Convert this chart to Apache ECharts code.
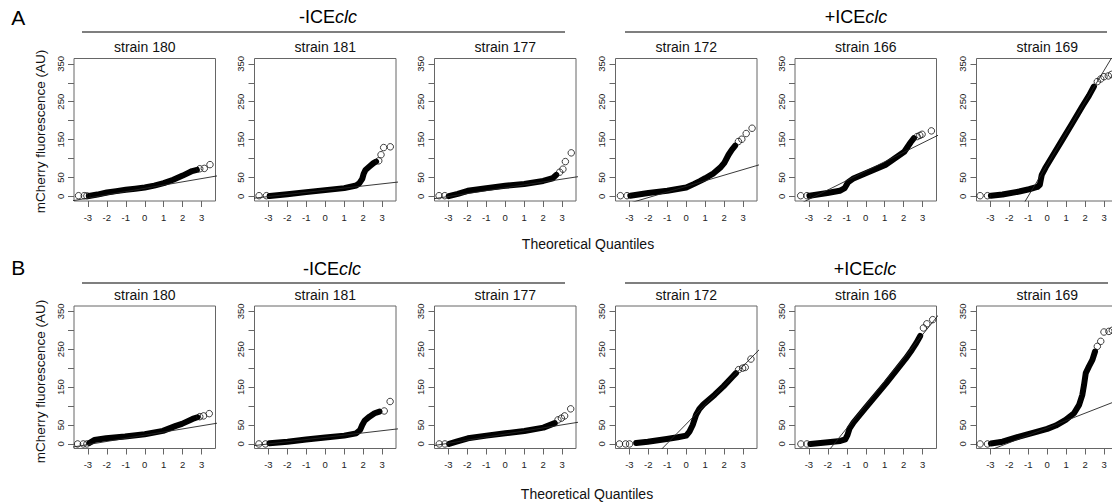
<!DOCTYPE html>
<html>
<head>
<meta charset="utf-8">
<script src="https://cdn.jsdelivr.net/npm/echarts@6.0.0/dist/echarts.min.js"></script>
<style>
  html, body { margin: 0; padding: 0; background: #fff; }
  #chart { width: 1112px; height: 504px; }
</style>
</head>
<body>
<div id="chart"></div>
<script>
// ---------- text / ticks ----------
const rowLetters = ['A', 'B'];
const groupPrefixes = ['-ICE', '+ICE'];
const groupItalic = 'clc';
const strainNames = ['strain 180', 'strain 181', 'strain 177', 'strain 172', 'strain 166', 'strain 169'];
const yAxisTitle = 'mCherry fluorescence (AU)';
const xAxisTitle = 'Theoretical Quantiles';
const yTickValues = [0, 50, 100, 150, 200, 250, 300, 350];
const yLabelValues = [0, 50, 150, 250, 350];
const xTickValues = [-3, -2, -1, 0, 1, 2, 3];

// ---------- data: [theoretical quantile, fluorescence] ----------
// Row A
const bandA180 = [[-2.95,1],[-2.5,5],[-2,10.5],[-1.5,14],[-1,17.5],[-0.5,20.5],[0,23.7],[0.5,28.5],[1,35],[1.5,44],[2,55],[2.5,67],[2.75,70]];
const outA180 = [[-3.49,2],[-3.19,2],[-3.05,1.5],[2.9,73],[3.14,74],[3.44,84]];
const refA180 = [[-4,-13],[4,55.8]];

const bandA181 = [[-2.93,1],[-2,6],[-1,11.4],[0,16.7],[1,22],[1.63,29],[1.8,35],[1.95,46.5],[2.02,59],[2.12,70],[2.33,79],[2.54,88],[2.68,92]];
const outA181 = [[-3.49,2],[-3.1,2],[2.82,94],[2.94,110],[3.08,129],[3.43,131]];
const refA181 = [[-4,-5.9],[4,38.9]];

const bandA177 = [[-2.98,1],[-2.5,7],[-1.98,15],[-1,22],[0,28],[1,33],[2,41],[2.5,48],[2.69,57]];
const outA177 = [[-3.49,2],[-3.19,2],[2.87,64],[3.04,72],[3.17,92],[3.48,115]];
const refA177 = [[-4,-7.8],[4,53.4]];

const bandA172 = [[-2.95,2],[-2,9],[-1,15],[0,23.7],[0.39,32.5],[0.74,41],[1,48],[1.44,61],[1.79,76],[2,88],[2.23,110],[2.4,123],[2.58,134]];
const outA172 = [[-3.47,2],[-3.12,2],[2.75,145],[2.93,151],[3.16,166],[3.47,180]];
const refA172 = [[-4,-32.5],[4,85.7]];

const bandA166 = [[-2.97,2],[-2.02,9],[-1.37,15],[-1.11,22],[-0.94,37],[-0.68,46.5],[0,61],[1.03,83],[2.03,118],[2.37,143],[2.54,154]];
const outA166 = [[-3.43,2],[-3.1,2],[2.71,158],[2.85,161],[2.97,164],[3.46,173]];
const refA166 = [[-4,-32.6],[4,166.2]];

const bandA169 = [[-2.97,2],[-2.36,5],[-1.48,13],[-0.96,19],[-0.52,25],[-0.39,31],[-0.34,44],[-0.29,57],[-0.08,77],[0.27,106],[0.8,150],[1.32,193],[1.85,238],[2.2,266],[2.46,290]];
const outA169 = [[-3.54,2],[-3.15,2],[2.64,303],[2.82,310],[2.99,316],[3.22,318],[3.39,322]];
const refA169 = [[-4,-248],[4,416]];

// Row B
const bandB180 = [[-2.92,2.6],[-2.66,10.6],[-2.04,15],[-1.04,19.4],[0,25.6],[0.96,34.4],[1.64,47.6],[1.96,53],[2.52,66],[2.78,70.5]];
const outB180 = [[-3.54,0],[-3.24,0],[-3.05,0],[2.9,72],[3.1,74],[3.4,80]];
const refB180 = [[-4,-9.9],[4,56.3]];

const bandB181 = [[-2.94,1.8],[-1.99,6],[-1.01,11.5],[0,16.8],[1,22],[1.63,28],[1.84,37],[1.95,50],[2.07,61],[2.33,72],[2.6,81],[2.86,85.5]];
const outB181 = [[-3.5,0],[-3.15,0],[3.11,87],[3.42,112]];
const refB181 = [[-4,-5.8],[4,40.8]];

const bandB177 = [[-2.96,0],[-2.57,6],[-1.97,15],[-0.99,22],[0,28],[1.01,34],[2.01,43],[2.61,55]];
const outB177 = [[-3.48,0],[-3.18,0],[2.78,63.5],[2.96,68],[3.13,74],[3.45,92.6]];
const refB177 = [[-4,-6.3],[4,58.5]];

const bandB172 = [[-2.64,2.6],[-2.03,6],[-1.03,13],[-0.45,17.6],[0,22],[0.17,32.6],[0.34,50],[0.52,77],[0.69,92],[0.9,104],[1.5,130],[1.96,152],[2.45,178],[2.62,187]];
const outB172 = [[-3.52,0],[-3.2,0],[-2.99,0],[2.76,196],[2.97,200],[3.11,202],[3.41,224]];
const refB172 = [[-4,-151.4],[4,256.6]];

const bandB166 = [[-2.92,0],[-1.99,4.4],[-1.34,8],[-1.08,12],[-0.96,24],[-0.85,41],[-0.64,57],[0,96],[1.08,160.5],[2.1,225],[2.43,248],[2.66,266],[2.87,285]];
const outB166 = [[-3.42,0],[-3.1,0],[3.04,306],[3.22,317],[3.53,328]];
const refB166 = [[-4,-143.9],[4,350.5]];

const bandB169 = [[-2.97,1],[-2.36,6],[-1.48,19.4],[-0.52,32.6],[0,39.7],[0.45,48.5],[0.97,63.5],[1.41,81],[1.68,103],[1.85,129.6],[1.94,156],[2.03,187],[2.2,204.6],[2.38,222],[2.52,244]];
const outB169 = [[-3.54,0],[-3.15,0],[2.64,257.5],[2.82,270.8],[2.99,295.4],[3.25,297],[3.43,300]];
const refB169 = [[-4,-35.7],[4,120.3]];

const panels = [
  [ {band: bandA180, out: outA180, ref: refA180}, {band: bandA181, out: outA181, ref: refA181},
    {band: bandA177, out: outA177, ref: refA177}, {band: bandA172, out: outA172, ref: refA172},
    {band: bandA166, out: outA166, ref: refA166}, {band: bandA169, out: outA169, ref: refA169} ],
  [ {band: bandB180, out: outB180, ref: refB180}, {band: bandB181, out: outB181, ref: refB181},
    {band: bandB177, out: outB177, ref: refB177}, {band: bandB172, out: outB172, ref: refB172},
    {band: bandB166, out: outB166, ref: refB166}, {band: bandB169, out: outB169, ref: refB169} ]
];

// ---------- layout ----------
const FONT = '"Liberation Sans", Arial, Helvetica, sans-serif';
const colLeft = [74, 254.5, 434.5, 615.5, 795, 976.5];
const rowTop = [58.5, 306];
const panelW = 141.5, panelH = 142.5;
const X_MIN = -3.73, X_MAX = 3.73, Y_MIN = -12, Y_MAX = 364;

const grids = [], xAxes = [], yAxes = [], series = [], graphics = [];
panels.forEach((row, r) => {
  row.forEach((p, c) => {
    const gi = grids.length;
    grids.push({
      left: colLeft[c], top: rowTop[r], width: panelW, height: panelH,
      show: true, borderColor: '#666', borderWidth: 1, backgroundColor: 'transparent',
      containLabel: false, outerBoundsMode: 'none'
    });
    xAxes.push({
      gridIndex: gi, type: 'value', min: X_MIN, max: X_MAX, position: 'bottom',
      axisLine: { show: false, onZero: false }, splitLine: { show: false },
      axisTick: { show: true, length: 6, customValues: xTickValues, lineStyle: { color: '#666', width: 1 } },
      axisLabel: { customValues: xTickValues, fontSize: 9.5, margin: 11, color: '#222', fontFamily: FONT,
                   formatter: v => String(v) }
    });
    yAxes.push({
      gridIndex: gi, type: 'value', min: Y_MIN, max: Y_MAX, position: 'left',
      axisLine: { show: false, onZero: false }, splitLine: { show: false },
      axisTick: { show: true, length: 6, customValues: yTickValues, lineStyle: { color: '#666', width: 1 } },
      axisLabel: { customValues: yLabelValues, rotate: 90, fontSize: 9.5, margin: 9, color: '#222', fontFamily: FONT }
    });
    series.push({
      type: 'line', xAxisIndex: gi, yAxisIndex: gi, data: p.band,
      showSymbol: false, symbol: 'none', smooth: false, clip: true,
      lineStyle: { color: '#000', width: 6, cap: 'round', join: 'round' }, z: 2, silent: true
    });
    series.push({
      type: 'scatter', xAxisIndex: gi, yAxisIndex: gi, data: p.out,
      symbol: 'circle', symbolSize: 6.5, clip: true,
      itemStyle: { color: 'rgba(0,0,0,0)', borderColor: '#111', borderWidth: 1 }, z: 3, silent: true
    });
    series.push({
      type: 'line', xAxisIndex: gi, yAxisIndex: gi, data: p.ref,
      showSymbol: false, symbol: 'none', clip: true,
      lineStyle: { color: '#222', width: 0.9 }, z: 4, silent: true
    });
    graphics.push({
      type: 'text', x: colLeft[c] + panelW / 2, y: r === 0 ? 46.5 : 295,
      style: { text: strainNames[c], font: '14px ' + FONT, fill: '#111',
               align: 'center', verticalAlign: 'middle', textAlign: 'center', textVerticalAlign: 'middle' }
    });
  });
});

// row-level texts and decorations
const rowLetterY = [17.7, 267.7];
const headerY = [16.8, 268.5];
const headerLineY = [32, 283];
const headerCenters = [[328, 856], [332, 865]];
const headerLines = [[[82, 565], [625, 1107]], [[82, 565], [625, 1108]]];
const yTitleY = [131.5, 381.5];
const xTitlePos = [[588, 244.4], [587, 494.3]];

for (let r = 0; r < 2; r++) {
  graphics.push({
    type: 'text', x: 18.3, y: rowLetterY[r],
    style: { text: rowLetters[r], font: '21px ' + FONT, fill: '#000',
             align: 'center', verticalAlign: 'middle', textAlign: 'center', textVerticalAlign: 'middle' }
  });
  for (let g = 0; g < 2; g++) {
    graphics.push({
      type: 'text', x: headerCenters[r][g], y: headerY[r],
      style: {
        text: groupPrefixes[g] + '{i|' + groupItalic + '}', font: '18px ' + FONT, fill: '#000',
        rich: { i: { fontStyle: 'italic', fontSize: 18, fontFamily: FONT, fill: '#000', color: '#000' } },
        align: 'center', verticalAlign: 'middle', textAlign: 'center', textVerticalAlign: 'middle'
      }
    });
    graphics.push({
      type: 'line',
      shape: { x1: headerLines[r][g][0], y1: headerLineY[r], x2: headerLines[r][g][1], y2: headerLineY[r] },
      style: { stroke: '#555', lineWidth: 1.4 }
    });
  }
  graphics.push({
    type: 'text', x: 40, y: yTitleY[r], rotation: Math.PI / 2,
    style: { text: yAxisTitle, font: '13.5px ' + FONT, fill: '#111',
             align: 'center', verticalAlign: 'middle', textAlign: 'center', textVerticalAlign: 'middle' }
  });
  graphics.push({
    type: 'text', x: xTitlePos[r][0], y: xTitlePos[r][1],
    style: { text: xAxisTitle, font: '14px ' + FONT, fill: '#111',
             align: 'center', verticalAlign: 'middle', textAlign: 'center', textVerticalAlign: 'middle' }
  });
}

const chart = echarts.init(document.getElementById('chart'), null, { renderer: 'svg', width: 1112, height: 504 });
chart.setOption({
  backgroundColor: '#fff',
  animation: false,
  grid: grids,
  xAxis: xAxes,
  yAxis: yAxes,
  series: series,
  graphic: { elements: graphics }
});
</script>
</body>
</html>
